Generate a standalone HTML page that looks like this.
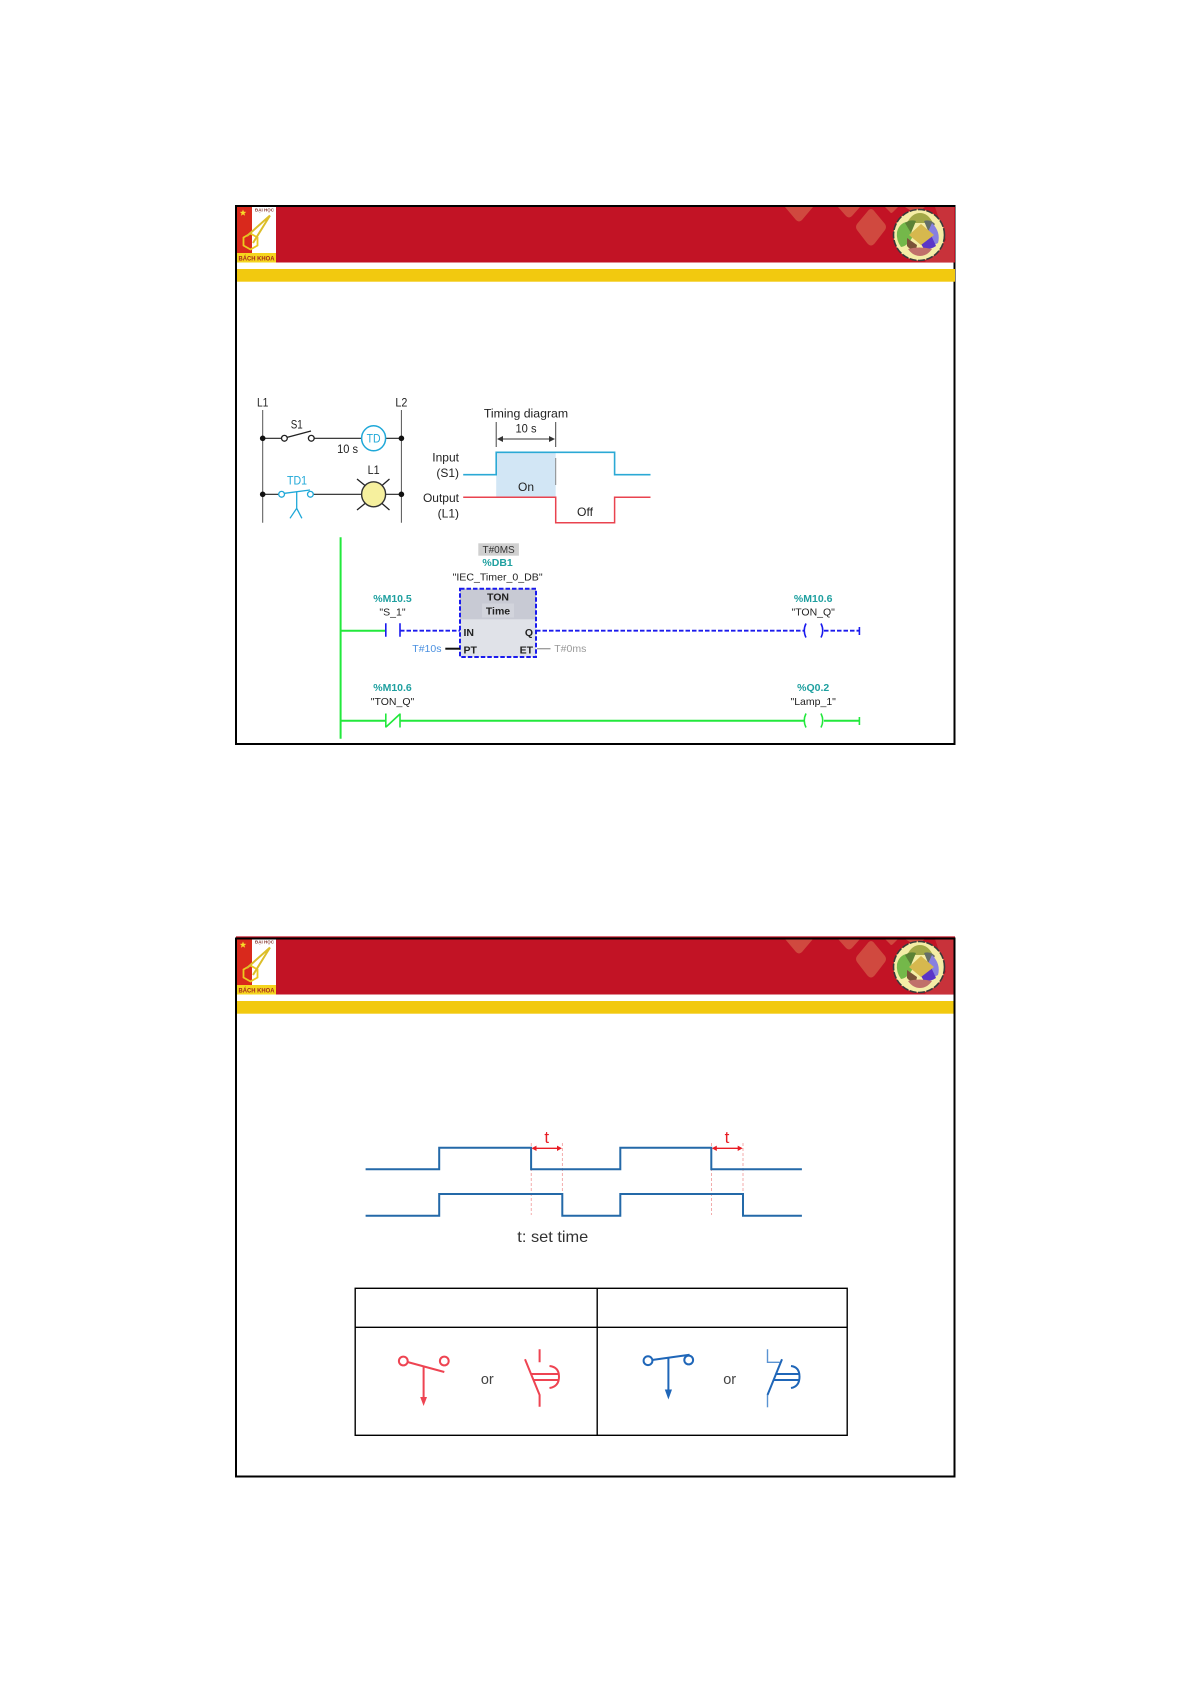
<!DOCTYPE html>
<html><head><meta charset="utf-8"><style>
html,body{margin:0;padding:0;background:#fff}
svg{display:block}
text{font-family:"Liberation Sans","DejaVu Sans",sans-serif}
.b{filter:blur(.35px)}
</style></head><body>
<svg width="1192" height="1685" viewBox="0 0 1192 1685" xmlns="http://www.w3.org/2000/svg">
<defs>
<g id="hdr">
  <rect x="237" y="207" width="718" height="55.5" fill="#C21325"/>
  <rect x="237" y="269" width="718" height="12.7" fill="#F2C90F"/>
  <g fill="#D0493F">
    <path d="M785 207H813L802 220Q799 223 796 220Z"/>
    <path d="M838 207H860L852 216Q849 219 846 216Z"/>
    <path d="M885 207H898L893 212Q891 214 890 212Z"/>
    <path d="M871 209Q873 209 875 212L885 224Q887 227 885 230L875 243Q871 248 867 243L857 230Q855 227 857 224L867 212Q869 209 871 209Z"/>
    <path d="M905 207H925L916 214Z"/>
  </g>
  <path d="M935 207H954V262H925L946 240Z" fill="#C8323A"/>
  <rect x="237" y="207" width="15" height="55" fill="#D9291C"/>
  <rect x="252" y="207" width="24" height="46" fill="#fff"/>
  <rect x="237" y="253" width="39" height="9.5" fill="#F5D51E"/>
  <path d="M243 209.5l.9 2.3 2.4.1-1.9 1.5.7 2.3-2.1-1.3-2.1 1.3.7-2.3-1.9-1.5 2.4-.1z" fill="#F7DC2A"/>
  <text x="264.5" y="211.5" font-size="4.5" font-weight="bold" text-anchor="middle" fill="#8a3a30">ĐẠI HỌC</text>
  <path d="M250.5 233.5l7 4v8l-7 4-7-4v-8z" fill="none" stroke="#EBC91F" stroke-width="1.8"/>
  <path d="M270 215.5L247 236M270 215.5L253 243" fill="none" stroke="#DCBE2A" stroke-width="2"/>
  <text x="256.5" y="260.5" font-size="6.6" font-weight="bold" text-anchor="middle" fill="#A5281C" textLength="36" lengthAdjust="spacingAndGlyphs">BÁCH KHOA</text>
  <circle cx="919" cy="235" r="25.5" fill="#F4EDA6" stroke="#3a3a3a" stroke-width="1.6" stroke-dasharray="7 1.5"/>
  <path d="M907 223Q912 213 920 213Q928 213 933 223Z" fill="#A2A848"/>
  <path d="M897 232Q899 224 906 222L913 236Q908 246 901 247Q896 240 897 232Z" fill="#74B84A"/>
  <path d="M905 223Q910 219 916 221L911 233Z" fill="#5C8236"/>
  <path d="M924 221Q930 219 935 224L929 233Z" fill="#646E68"/>
  <path d="M932 223Q941 232 938 243L932 246L926 236Z" fill="#8780E0"/>
  <path d="M921 244L931 235L936 246Q930 250 924 249Z" fill="#5A36C8"/>
  <path d="M907 238L917 245L916 250Q910 250 907 246Z" fill="#7A5238"/>
  <path d="M908 249Q919 246 932 249Q927 256 920 256Q913 256 908 249Z" fill="#C0706A"/>
  <path d="M921 224L934 235L921 245L909 235Z" fill="#D6B84E"/>
</g>
</defs>

<!-- SLIDE 1 -->
<rect x="236" y="206" width="718.5" height="538" fill="#fff" stroke="#000" stroke-width="2"/>
<use href="#hdr" class="b"/>

<g class="b">
<!-- ladder sketch -->
<g fill="none" stroke="#555" stroke-width="1">
  <path d="M262.7 410V522.7M401.4 410V522.7"/>
</g>
<g fill="none" stroke="#222" stroke-width="1.1">
  <path d="M262.7 438.3H281.6M314.2 438.3H361.6M385.6 438.3H401.4"/>
  <path d="M287.5 437.3L311 431" stroke-width="1.3"/>
  <circle cx="284.4" cy="438.3" r="2.9" stroke-width="1.3"/>
  <circle cx="311.3" cy="438.3" r="2.9" stroke-width="1.3"/>
  <path d="M262.7 494.3H278.6M313.4 494.3H361.6M385.6 494.3H401.4"/>
  <path d="M357 479L365 485.5M389.5 479L382 485.5M357 510L365 503.5M389.5 510L382 503.5" stroke-width="1.3"/>
</g>
<g fill="#111">
  <circle cx="262.7" cy="438.3" r="2.8"/><circle cx="401.4" cy="438.3" r="2.8"/>
  <circle cx="262.7" cy="494.3" r="2.8"/><circle cx="401.4" cy="494.3" r="2.8"/>
</g>
<ellipse cx="373.6" cy="438.3" rx="12" ry="12.5" fill="#fff" stroke="#1FA8D8" stroke-width="1.5"/>
<ellipse cx="373.6" cy="494.3" rx="12" ry="12.5" fill="#F6F09E" stroke="#333" stroke-width="1.4"/>
<g fill="none" stroke="#1FA8D8" stroke-width="1.3">
  <circle cx="281.6" cy="494.3" r="2.9"/><circle cx="310.4" cy="494.3" r="2.9"/>
  <path d="M284.5 493.3L310 490M296.7 491.7V508.3L290 518.3M296.7 508.3L301.9 518.3"/>
</g>
<!-- timing diagram -->
<rect x="496.2" y="452.3" width="59.5" height="45" fill="#D2E6F5"/>
<path d="M496.2 422V447M555.7 422V447" stroke="#444" stroke-width="1" fill="none"/>
<path d="M499 439H553" stroke="#333" stroke-width="1" fill="none"/>
<path d="M497 439l6-3v6zM555 439l-6-3v6z" fill="#333"/>
<path d="M555.7 458V485" stroke="#888" stroke-width="1" fill="none"/>
<path d="M463.2 474.7H496.2V452.3H614.6V474.7H650.5" fill="none" stroke="#2BA9D5" stroke-width="1.6"/>
<path d="M463.2 497.3H555.7V522.7H614.6V497.3H650.5" fill="none" stroke="#E9434F" stroke-width="1.5"/>
<g font-size="12" fill="#222" text-anchor="middle">
  <text x="262.7" y="406.5" textLength="11.5" lengthAdjust="spacingAndGlyphs">L1</text>
  <text x="401.4" y="406.5" textLength="12" lengthAdjust="spacingAndGlyphs">L2</text>
  <text x="296.7" y="428.5" textLength="12" lengthAdjust="spacingAndGlyphs">S1</text>
  <text x="347.6" y="453" textLength="21" lengthAdjust="spacingAndGlyphs">10 s</text>
  <text x="373.6" y="474" textLength="12" lengthAdjust="spacingAndGlyphs">L1</text>
  <text x="526" y="417.5" font-size="12.3">Timing diagram</text>
  <text x="526" y="432.5" textLength="21" lengthAdjust="spacingAndGlyphs">10 s</text>
  <text x="526" y="491">On</text>
  <text x="585" y="516" textLength="16" lengthAdjust="spacingAndGlyphs">Off</text>
</g>
<text x="373.6" y="442.5" font-size="12" fill="#1FA8D8" text-anchor="middle" textLength="14" lengthAdjust="spacingAndGlyphs">TD</text>
<text x="297" y="484.5" font-size="12" fill="#1FA8D8" text-anchor="middle" textLength="20" lengthAdjust="spacingAndGlyphs">TD1</text>
<g font-size="12" fill="#222" text-anchor="end">
  <text x="459" y="461.5">Input</text>
  <text x="459" y="477">(S1)</text>
  <text x="459" y="502">Output</text>
  <text x="459" y="517.5">(L1)</text>
</g>

<!-- PLC ladder -->
<path d="M340.6 537.3V738.7" stroke="#22E83C" stroke-width="2" fill="none"/>
<rect x="478.3" y="543.3" width="40.6" height="12.4" fill="#D0D0D0"/>
<text x="498.6" y="553" font-size="10" fill="#333" text-anchor="middle">T#0MS</text>
<g font-size="10.5" text-anchor="middle">
  <text x="497.6" y="566" fill="#1FA0A0" font-weight="bold">%DB1</text>
  <text x="497.6" y="580.5" fill="#222" textLength="90" lengthAdjust="spacingAndGlyphs">"IEC_Timer_0_DB"</text>
  <text x="392.5" y="602" fill="#1FA0A0" font-weight="bold">%M10.5</text>
  <text x="392.5" y="615.5" fill="#222">"S_1"</text>
  <text x="813.2" y="602" fill="#1FA0A0" font-weight="bold">%M10.6</text>
  <text x="813.2" y="615.5" fill="#222">"TON_Q"</text>
  <text x="392.5" y="691" fill="#1FA0A0" font-weight="bold">%M10.6</text>
  <text x="392.5" y="705" fill="#222">"TON_Q"</text>
  <text x="813.2" y="691" fill="#1FA0A0" font-weight="bold">%Q0.2</text>
  <text x="813.2" y="705" fill="#222">"Lamp_1"</text>
</g>
<rect x="460" y="588.7" width="76" height="68.3" fill="#E0E2E8"/>
<rect x="460" y="588.7" width="76" height="30.6" fill="#C8CAD4"/>
<rect x="482" y="603.5" width="32" height="14" fill="#D2D4DC"/>
<rect x="460" y="588.7" width="76" height="68.3" fill="none" stroke="#1A1AEE" stroke-width="2" stroke-dasharray="4.5 2"/>
<g font-size="10.5" fill="#222" font-weight="bold">
  <text x="498" y="600.5" text-anchor="middle">TON</text>
  <text x="498" y="614.5" text-anchor="middle">Time</text>
  <text x="463.5" y="636">IN</text>
  <text x="463.5" y="653.5">PT</text>
  <text x="533" y="636" text-anchor="end">Q</text>
  <text x="533" y="653.5" text-anchor="end">ET</text>
</g>
<path d="M340.6 630.7H385.4" stroke="#22E83C" stroke-width="2" fill="none"/>
<g fill="none" stroke="#1A1AEE" stroke-width="1.6">
  <path d="M385.8 623.3V636.7M400 623.3V636.7"/>
  <path d="M400 630.7H460M536 630.7H804M824 630.7H859" stroke-dasharray="4.5 2" stroke-width="1.8"/>
  <path d="M859.4 627V635"/>
  <path d="M806 623.5Q802.5 630.7 806 637.5M821 623.5Q824.5 630.7 821 637.5"/>
</g>
<path d="M445.3 648.7H460" stroke="#111" stroke-width="2" fill="none"/>
<path d="M537 648.7H550.5" stroke="#999" stroke-width="1.3" fill="none"/>
<text x="426.9" y="652" font-size="10.5" fill="#4A90E0" text-anchor="middle">T#10s</text>
<text x="570.3" y="652" font-size="10.5" fill="#999" text-anchor="middle">T#0ms</text>
<g fill="none" stroke="#22E83C" stroke-width="2">
  <path d="M340.6 720.7H385.8M400 720.7H804M824 720.7H859"/>
  <path d="M385.8 713.5V727.5M400 713.5V727.5M386 727L400 714" stroke-width="1.6"/>
  <path d="M859.4 717V725" stroke-width="1.6"/>
  <path d="M806 713.5Q802.5 720.7 806 727.5M821 713.5Q824.5 720.7 821 727.5" stroke-width="1.6"/>
</g>
</g>

<!-- SLIDE 2 -->
<g transform="translate(0,732)"><use href="#hdr" class="b"/></g>
<path d="M236 937H955" stroke="#C21325" stroke-width="1.2"/>
<rect x="236" y="938.5" width="718.5" height="538" fill="none" stroke="#000" stroke-width="2"/>

<g class="b">
<g stroke="#E88" stroke-width=".7" stroke-dasharray="3 2" fill="none">
  <path d="M531.2 1143V1215M562.3 1143V1216M711.6 1143V1215M743 1143V1216"/>
</g>
<g fill="none" stroke="#2469A8">
  <path d="M365.6 1169.3H439.2V1147.7H531.1V1169.3H620.3V1147.7H711.3V1169.3H801.9" stroke-width="2"/>
  <path d="M365.6 1215.7H439.2V1194H562.3V1215.7H620.3V1194H743V1215.7H801.9" stroke-width="2"/>
</g>
<g fill="none" stroke="#E81C24" stroke-width="1.3">
  <path d="M533 1148.3H560M713 1148.3H741"/>
</g>
<g fill="#E81C24">
  <path d="M531.5 1148.3l5-2.7v5.4zM562 1148.3l-5-2.7v5.4zM711.8 1148.3l5-2.7v5.4zM742.7 1148.3l-5-2.7v5.4z"/>
</g>
<text x="546.7" y="1143" font-size="17" fill="#E81C24" text-anchor="middle">t</text>
<text x="727" y="1143" font-size="17" fill="#E81C24" text-anchor="middle">t</text>
<text x="552.8" y="1242" font-size="16" fill="#333" text-anchor="middle" textLength="71" lengthAdjust="spacingAndGlyphs">t: set time</text>

<!-- table -->
<g fill="none" stroke="#000" stroke-width="1.4">
  <rect x="355.2" y="1288.3" width="492" height="147"/>
  <path d="M355.2 1327.3H847.2M597.2 1288.3V1435.3"/>
</g>
<g fill="none" stroke="#EE4452" stroke-width="2">
  <circle cx="403.3" cy="1361" r="4.4"/><circle cx="444.3" cy="1361" r="4.4"/>
  <path d="M407.5 1362L444.3 1372M423.6 1367.3V1398"/>
  <path d="M539.6 1349.3V1362.3M525 1359.3L539.6 1395V1406.7M531.6 1374H559M533.5 1380H559"/>
  <path d="M549.5 1366Q559 1367 559 1376.7T549.5 1388"/>
</g>
<path d="M423.6 1406l-3.4-9h6.8z" fill="#EE4452"/>
<g fill="none" stroke="#1F66B8" stroke-width="2">
  <circle cx="648" cy="1360.7" r="4.4"/><circle cx="688.7" cy="1360" r="4.4"/>
  <path d="M652 1360L689.6 1354.7M668.4 1357.3V1390"/>
  <path d="M767.5 1349.3V1362.3H779.7" stroke="#5A93D2" stroke-width="1.4"/>
  <path d="M782 1359.3L767.5 1395"/>
  <path d="M767.5 1395V1407.3" stroke="#5A93D2" stroke-width="1.4"/>
  <path d="M776 1374H799.5M774 1380H799.5"/>
  <path d="M791 1366Q799.5 1367 799.5 1376.7T791 1388"/>
</g>
<path d="M668.4 1399.5l-3.6-10h7.2z" fill="#1F66B8"/>
<text x="487.3" y="1384" font-size="14.5" fill="#444" text-anchor="middle">or</text>
<text x="729.7" y="1384" font-size="14.5" fill="#444" text-anchor="middle">or</text>
</g>
</svg>
</body></html>
